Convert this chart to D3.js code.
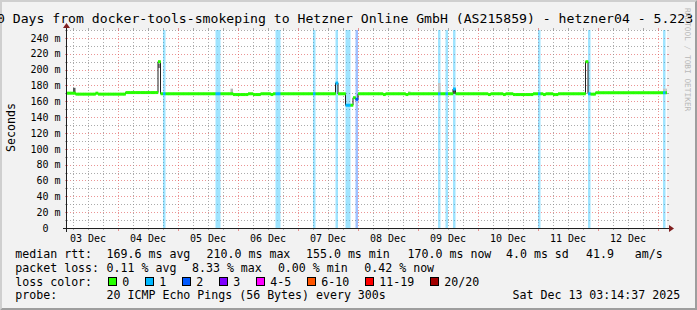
<!DOCTYPE html>
<html><head><meta charset="utf-8">
<script src="https://cdn.jsdelivr.net/npm/d3@7"></script>
<style>
html,body{margin:0;padding:0;background:#f2f2f2;overflow:hidden}
svg{display:block}
text{font-family:"DejaVu Sans Mono",monospace;white-space:pre}
</style></head><body>
<svg id="c" width="697" height="310"></svg>
<script>
// ---------------- DATA ----------------
const titleText = "10 Days from docker-tools-smokeping to Hetzner Online GmbH (AS215859) - hetzner04 - 5.223";
const yTickValues = [0,20,40,60,80,100,120,140,160,180,200,220,240];
// hourly samples, index 0 = 2025-12-03 04:00 UTC
// [first sample, last sample, median rtt in ms]
const medianRuns = [
  [-1,2,170.2],[3,10,169],[11,11,170.2],[12,22,169],[23,35,171],[36,36,210],
  [37,65,169.5],[66,71,168.5],[72,73,169.5],[74,76,168.5],[77,80,169.5],[81,81,168.5],
  [82,106,169.5],[107,107,183],[108,110,169.5],[111,113,155],[114,114,164.5],[115,115,162.5],
  [116,125,169.5],[126,126,168.5],[127,134,169.5],[135,135,168.5],[136,153,169.5],[154,154,175.5],
  [155,167,169.5],[168,168,168.5],[169,173,169.5],[174,174,168.5],[175,177,169.5],[178,185,168.5],
  [186,189,169.5],[190,190,168.5],[191,193,169.5],[194,195,168.5],[196,206,169.5],[207,207,210],
  [208,208,169.5],[209,210,169],[211,240,170.8]
];
// [sample, lost pings out of 20]
const lossSamples = [[38,1],[59,1],[60,1],[83,1],[84,1],[98,1],[107,1],[111,1],[112,1],[115,2],
  [148,1],[151,1],[154,1],[188,1],[208,1],[238,1]];
// smoke: [sample, low ms, high ms, pings in range]
const smokeSamples = [[2,170.5,177,8],[36,202,207.5,5],[65,170.5,176,2],[136,170.5,172.5,1],
  [148,170.5,183,1],[154,169.5,175,9],[238,170.5,176,1],[239,170.5,176,1]];
const lossLabels = ["0","1","2","3","4-5","6-10","11-19","20/20"];
const lossColors = ["#26ff00","#00b8ff","#0059ff","#7e00ff","#ff00ff","#ff5500","#ff0000","#a10000"];
const rttLegend = [["median rtt:",16],["169.6 ms avg",107.3],["210.0 ms max",207.3],["155.0 ms min",306.7],
  ["170.0 ms now",408.3],["4.0 ms sd",506.7],["41.9   am/s",586.7]];
const lossLegend = [["packet loss:",16],["0.11 % avg",107.3],["8.33 % max",192.7],["0.00 % min",278.6],["0.42 % now",365]];
const probeLegend = [["probe:",16],["20 ICMP Echo Pings (56 Bytes) every 300s",107.3],["Sat Dec 13 03:14:37 2025",513.3]];
const swatchX = [108,145,182,219,256,307,365,430];

// ---------------- LAYOUT ----------------
const W=697,H=310,X0=67,X1=667,Y0=228,Y1=30;
const HOUR=3600e3;
const tStart=new Date(Date.UTC(2025,11,3,3,36)), tEnd=new Date(Date.UTC(2025,11,13,3,36));
const firstSample=Date.UTC(2025,11,3,4,0);
const x=d3.scaleUtc().domain([tStart,tEnd]).range([X0,X1]);
const y=d3.scaleLinear().domain([0,250]).range([Y0,Y1]);
const lossColor=d3.scaleThreshold().domain([1,2,3,4,6,11,20]).range(lossColors);
const smokeGray=d3.scaleLinear().domain([1,10]).range(["#c4c4c4","#3c3c3c"]);
const sx0=k=>x(new Date(firstSample+k*HOUR)), sx1=k=>x(new Date(firstSample+(k+1)*HOUR));

const svg=d3.select("#c");
// background & 3D border
svg.append("rect").attr("width",W).attr("height",H).attr("fill","#f2f2f2");
svg.append("path").attr("d",`M0,0H${W}L${W-2},2H2V${H-2}L0,${H}Z`).attr("fill","#cfcfcf");
svg.append("path").attr("d",`M${W},0V${H}H0L2,${H-2}H${W-2}V2Z`).attr("fill","#9e9e9e");
// canvas
svg.append("rect").attr("x",X0).attr("y",Y1).attr("width",X1-X0).attr("height",Y0-Y1).attr("fill","#fff");

const defs=svg.append("defs");
defs.append("clipPath").attr("id","pc").append("rect").attr("x",X0).attr("y",Y1).attr("width",X1-X0).attr("height",Y0-Y1);

// grid
const grid=svg.append("g").attr("shape-rendering","crispEdges");
const gridGray="rgba(143,143,143,0.75)", gridRed="rgba(222,79,79,0.6)";
d3.range(10,251,10).forEach(v=>{
  const yy=Math.round(y(v))+0.5, major=v%20===0, c=major?gridRed:gridGray;
  grid.append("line").attr("x1",X0).attr("x2",X1).attr("y1",yy).attr("y2",yy).attr("stroke",c).attr("stroke-dasharray","1,2");
  grid.append("line").attr("x1",X0-2).attr("x2",X0).attr("y1",yy).attr("y2",yy).attr("stroke",c);
  grid.append("line").attr("x1",X1).attr("x2",X1+2).attr("y1",yy).attr("y2",yy).attr("stroke",c);
});
const days=d3.utcDay.range(d3.utcDay.floor(tStart),tEnd);
d3.utcHour.every(6).range(tStart,tEnd).forEach(t=>{
  const xx=Math.round(x(t))+0.5, major=t.getUTCHours()===0, c=major?gridRed:gridGray;
  grid.append("line").attr("x1",xx).attr("x2",xx).attr("y1",Y1).attr("y2",Y0).attr("stroke",c).attr("stroke-dasharray","1,2");
  grid.append("line").attr("x1",xx).attr("x2",xx).attr("y1",Y0).attr("y2",Y0+(major?3:2)).attr("stroke",c);
  grid.append("line").attr("x1",xx).attr("x2",xx).attr("y1",Y1-2).attr("y2",Y1).attr("stroke",c);
});

// data layer
const plot=svg.append("g").attr("clip-path","url(#pc)");
const samples=[];
medianRuns.forEach(([a,b,v])=>{for(let k=a;k<=b;k++)samples.push({k,v});});
const lossMap=new Map(lossSamples);
// loss background
plot.append("g").selectAll("rect").data(lossSamples).join("rect")
  .attr("x",d=>sx0(d[0])).attr("width",d=>sx1(d[0])-sx0(d[0]))
  .attr("y",Y1).attr("height",Y0-Y1).attr("fill",d=>lossColor(d[1])).attr("fill-opacity",0.376);
// smoke
plot.append("g").selectAll("rect").data(smokeSamples).join("rect")
  .attr("x",d=>sx0(d[0])).attr("width",d=>sx1(d[0])-sx0(d[0]))
  .attr("y",d=>y(d[2])).attr("height",d=>y(d[1])-y(d[2])).attr("fill",d=>smokeGray(d[3]));
// dark median step line
const pts=samples.map(s=>[sx0(s.k),y(s.v)]);
const last=samples[samples.length-1]; pts.push([sx1(last.k),y(last.v)]);
plot.append("path").attr("d",d3.line().curve(d3.curveStepAfter)(pts)).attr("fill","none").attr("stroke","#202020").attr("stroke-width",1);
// loss-coloured median
plot.append("g").selectAll("rect").data(samples).join("rect")
  .attr("x",d=>sx0(d.k)).attr("width",d=>sx1(d.k)-sx0(d.k)+0.3)
  .attr("y",d=>y(d.v)-1.5).attr("height",3).attr("fill",d=>lossColor(lossMap.get(d.k)||0));

// axes
const ax=svg.append("g");
ax.append("line").attr("x1",X0-4).attr("x2",X1+4).attr("y1",Y0+0.5).attr("y2",Y0+0.5).attr("stroke","#1f1f1f");
ax.append("line").attr("x1",X0-0.5).attr("x2",X0-0.5).attr("y1",Y0+4).attr("y2",Y1-4).attr("stroke","#1f1f1f");
ax.append("path").attr("d",`M${X1+2},${Y0-3}L${X1+2},${Y0+4}L${X1+7},${Y0+0.5}Z`).attr("fill","#801f1f");
ax.append("path").attr("d",`M${X0-4},${Y1-2}L${X0+3},${Y1-2}L${X0-0.5},${Y1-7}Z`).attr("fill","#801f1f");

// y labels
svg.append("g").selectAll("text").data(yTickValues).join("text")
  .attr("x",d=>d===0?48.5:60.5).attr("y",d=>y(d)+3.7).attr("text-anchor","end")
  .attr("font-size","10px").attr("fill","#000").text(d=>d===0?"0":`${d} m`);
// x labels
const fmt=d3.utcFormat("%d %b");
svg.append("g").selectAll("text").data(days.filter(d=>{const p=x(new Date(+d+12*HOUR));return p>X0&&p<X1-10;})).join("text")
  .attr("x",d=>x(new Date(+d+12*HOUR))).attr("y",241.5).attr("text-anchor","middle")
  .attr("font-size","10px").text(d=>fmt(d));
// Seconds
svg.append("text").attr("transform","translate(15.2,127.5) rotate(-90)").attr("text-anchor","middle")
  .attr("font-size","11.6px").text("Seconds");
// title
svg.append("text").attr("x",-11).attr("y",23).attr("font-size","13.15px").text(titleText);
// watermark
svg.append("text").attr("transform","translate(685,8) rotate(90)").attr("font-size","7.8px")
  .attr("fill","#b8b8b8").text("RRDTOOL / TOBI OETIKER");

// legend
const lg=svg.append("g").attr("font-size","11.6px");
function row(items,yy){items.forEach(([t,xx])=>lg.append("text").attr("x",xx-0.7).attr("y",yy).text(t));}
row(rttLegend,258.3);
row(lossLegend,271.9);
row([["loss color:",16]],285.5);
row(probeLegend,299.1);
lossLabels.forEach((l,i)=>{
  lg.append("rect").attr("x",swatchX[i]+0.5).attr("y",277.5).attr("width",8).attr("height",8)
    .attr("fill",lossColors[i]).attr("stroke","#000").attr("stroke-width",1);
  lg.append("text").attr("x",swatchX[i]+15-0.7).attr("y",285.5).text(l);
});
</script></body></html>
